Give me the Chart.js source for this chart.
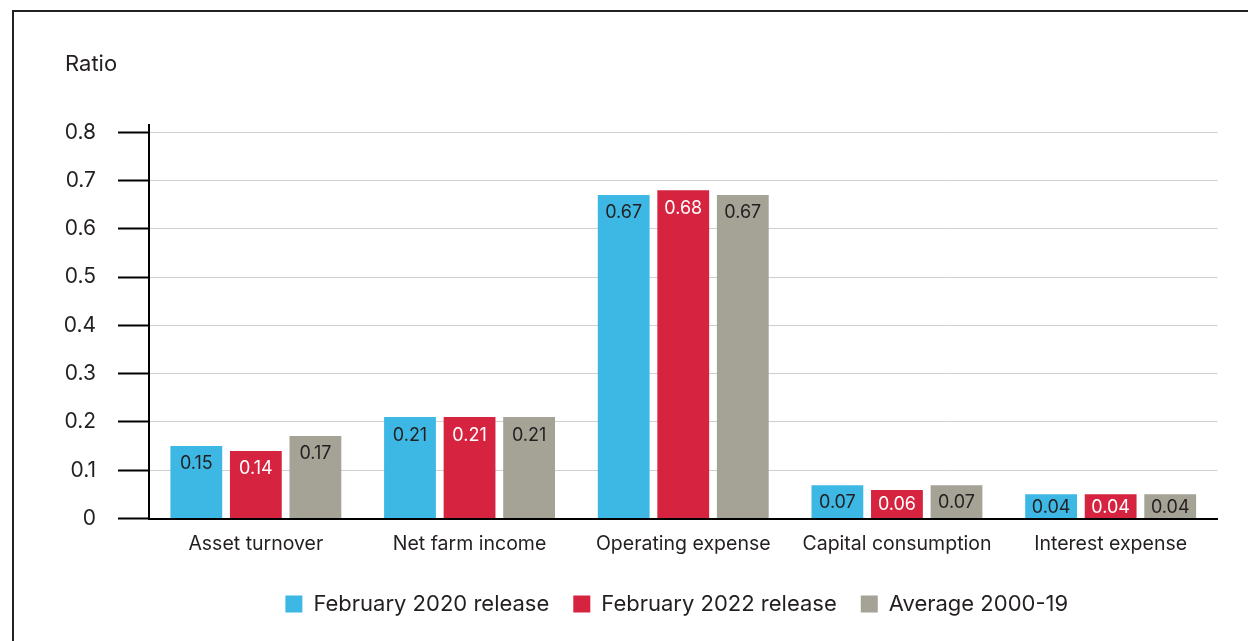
<!DOCTYPE html>
<html>
<head>
<meta charset="utf-8">
<script src="https://cdn.jsdelivr.net/npm/chart.js@4/dist/chart.umd.min.js"></script>
<style>
  html, body { margin: 0; padding: 0; background: #fff; }
  #wrap { position: relative; width: 1248px; height: 641px; }
  #frame { position: absolute; left: 12px; top: 10px; right: 0; bottom: 0;
           border-top: 2px solid #222; border-left: 2px solid #222; pointer-events: none; }
  canvas { position: absolute; left: 0; top: 0; }
</style>
</head>
<body>
<div id="wrap">
  <canvas id="c" width="1248" height="641"></canvas>
  <div id="frame"></div>
</div>
<script>
// ── Data ──────────────────────────────────────────────────────────────────────
const categories = ['Asset turnover', 'Net farm income', 'Operating expense', 'Capital consumption', 'Interest expense'];
const seriesNames = ['February 2020 release', 'February 2022 release', 'Average 2000-19'];

// bar heights
const feb2020 = [0.15, 0.21, 0.67, 0.069, 0.05];
const feb2022 = [0.14, 0.21, 0.68, 0.059, 0.05];
const avg0019 = [0.171, 0.21, 0.67, 0.069, 0.05];

// printed value labels
const feb2020Text = ['0.15', '0.21', '0.67', '0.07', '0.04'];
const feb2022Text = ['0.14', '0.21', '0.68', '0.06', '0.04'];
const avg0019Text = ['0.17', '0.21', '0.67', '0.07', '0.04'];

const yTicks = [0, 0.1, 0.2, 0.3, 0.4, 0.5, 0.6, 0.7, 0.8];

const COLORS = { blue: '#3db8e5', red: '#d6233f', gray: '#a5a296' };
const INK = '#231f20';
const FONT = 'Inter, "Noto Sans", sans-serif';

// ── Plugins ───────────────────────────────────────────────────────────────────
const valueLabels = {
  id: 'valueLabels',
  afterDatasetsDraw(chart) {
    const { ctx } = chart;
    ctx.save();
    ctx.font = `18px ${FONT}`;
    ctx.textAlign = 'center';
    ctx.textBaseline = 'middle';
    chart.data.datasets.forEach((ds, i) => {
      chart.getDatasetMeta(i).data.forEach((bar, j) => {
        const top = bar.y, base = bar.base;
        const y = Math.min(top + 17, (top + base) / 2);
        ctx.fillStyle = ds.textColor;
        ctx.fillText(ds.valueText[j], bar.x, y + 1);
      });
    });
    ctx.restore();
  },
};

const axisTitle = {
  id: 'axisTitle',
  afterDraw(chart) {
    const { ctx } = chart;
    ctx.save();
    ctx.font = `22px ${FONT}`;
    ctx.fillStyle = INK;
    ctx.textAlign = 'left';
    ctx.textBaseline = 'middle';
    ctx.fillText('Ratio', 65, 64);
    ctx.restore();
  },
};

// the source centres its legend a bit right of the canvas middle
const legendShift = {
  id: 'legendShift',
  afterLayout(chart) {
    chart.legend.left += 68;
    chart.legend.right += 68;
  },
};

// ── Chart ─────────────────────────────────────────────────────────────────────
new Chart(document.getElementById('c'), {
  type: 'bar',
  data: {
    labels: categories,
    datasets: [
      { label: seriesNames[0], data: feb2020, valueText: feb2020Text, backgroundColor: COLORS.blue, textColor: INK },
      { label: seriesNames[1], data: feb2022, valueText: feb2022Text, backgroundColor: COLORS.red, textColor: '#ffffff' },
      { label: seriesNames[2], data: avg0019, valueText: avg0019Text, backgroundColor: COLORS.gray, textColor: INK },
    ].map((d) => ({ ...d, borderWidth: 0, categoryPercentage: 0.836, barPercentage: 0.87 })),
  },
  options: {
    responsive: false,
    animation: false,
    layout: { padding: { left: 0, right: 30.5, top: 125, bottom: 16 } },
    plugins: {
      tooltip: { enabled: false },
      legend: {
        position: 'bottom',
        labels: { boxWidth: 17, boxHeight: 17, padding: 24, color: INK, font: { family: FONT, size: 22 } },
      },
    },
    scales: {
      x: {
        grid: { display: false },
        border: { color: '#000', width: 2 },
        ticks: { color: INK, padding: 5.5, font: { family: FONT, size: 19.5 } },
        afterFit(scale) { scale.height = 50.5; },
      },
      y: {
        min: 0,
        max: 0.815,
        afterBuildTicks(scale) { scale.ticks = yTicks.map((v) => ({ value: v })); },
        afterFit(scale) { scale.width = 149; },
        grid: { color: '#d0d0d0', lineWidth: 1, tickColor: '#000', tickWidth: 2, tickLength: 31 },
        border: { color: '#000', width: 2 },
        ticks: {
          color: INK, padding: 22, font: { family: FONT, size: 21 },
          callback: (v) => (v === 0 ? '0' : v.toFixed(1)),
        },
      },
    },
  },
  plugins: [valueLabels, axisTitle, legendShift],
});
</script>
</body>
</html>
